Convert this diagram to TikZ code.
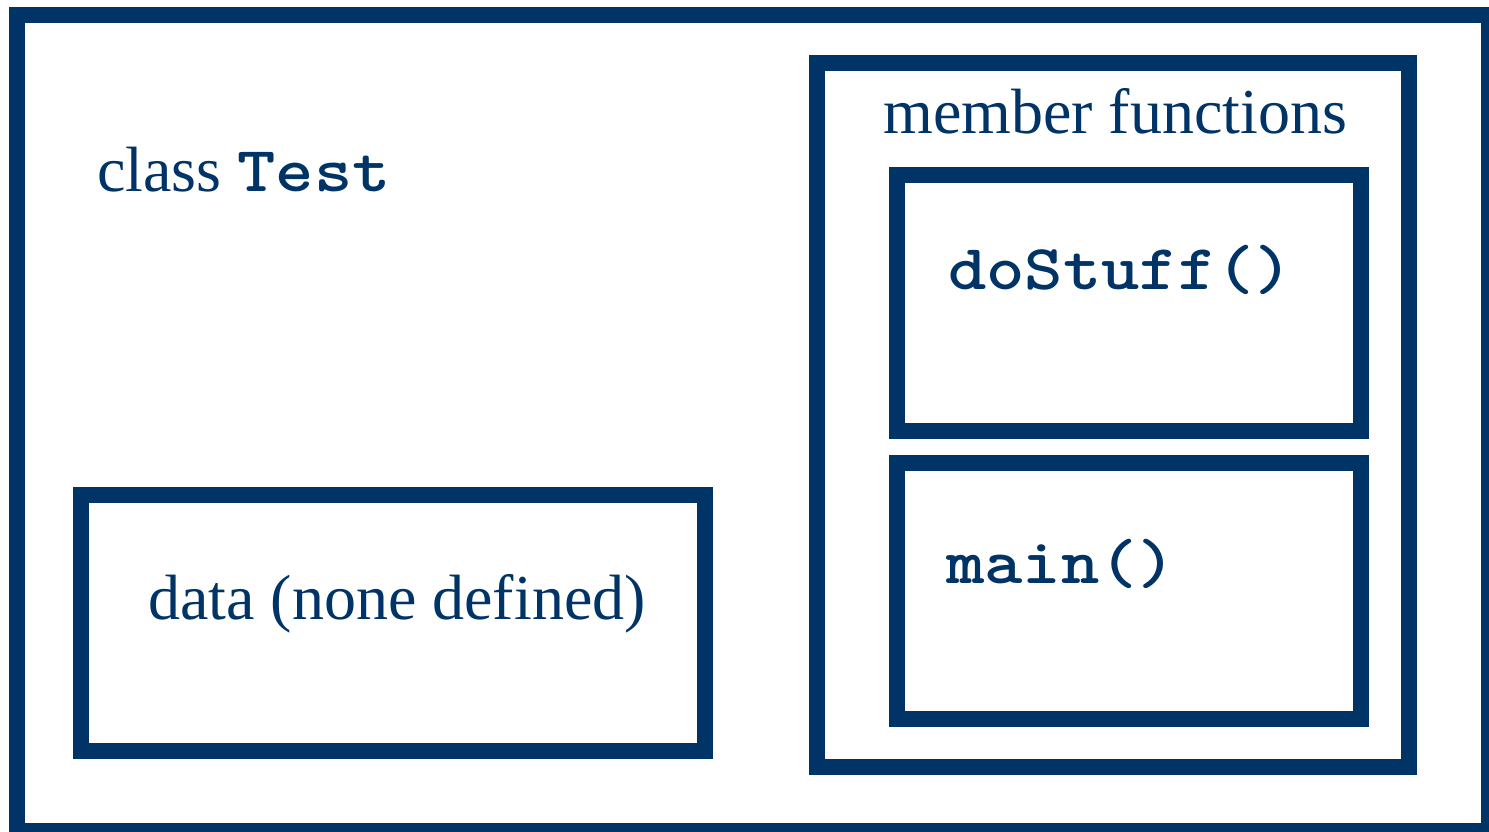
\documentclass[tikz,border=0pt]{standalone}
\usepackage{fontspec}
\setmainfont{Liberation Serif}
\newfontfamily\codefont{lmmonolt10-bold.otf}[FakeStretch=1.14]
\definecolor{navy}{RGB}{0,51,102}
\tikzset{
  frame/.style={draw=navy, line width=16pt, rectangle, inner sep=0pt},
  label/.style={text=navy, inner sep=0pt, anchor=base west,
    font=\fontsize{64}{70}\selectfont},
  code/.style={label, font=\fontsize{64}{70}\selectfont\codefont}
}
\begin{document}
\begin{tikzpicture}[x=1pt, y=-1pt]
  \useasboundingbox (0,0) rectangle (1489,832);
  \fill[white] (0,0) rectangle (1489,832);

  % class outline
  \node[frame, minimum width=1472pt, minimum height=816pt] (cls) at (753,423) {};
  \node[label] (clsname) at (97,192) {class \codefont Test};

  % data part
  \node[frame, minimum width=624pt, minimum height=256pt] (data) at (393,623) {};
  \node[label] (datatxt) at (148,619) {data (none defined)};

  % member functions
  \node[frame, minimum width=592pt, minimum height=704pt] (members) at (1113,415) {};
  \node[label] (memtxt) at (883,134) {member functions};

  \node[frame, minimum width=464pt, minimum height=256pt] (dostuff) at (1129,303) {};
  \node[code] (dostufftxt) at (948,289) {doStuff()};

  \node[frame, minimum width=464pt, minimum height=256pt] (mainfn) at (1129,591) {};
  \node[code] (maintxt) at (946,583) {main()};
\end{tikzpicture}
\end{document}
